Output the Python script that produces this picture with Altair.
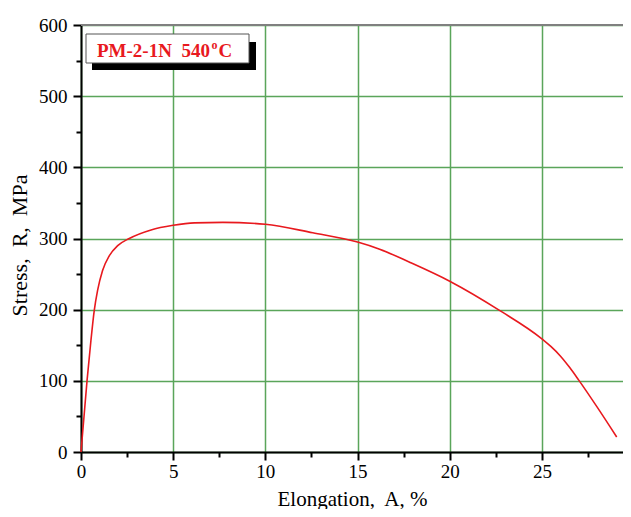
import altair as alt
import pandas as pd

# ---- data ----
elongation = [0, 0.33, 0.54, 0.72, 0.9, 1.17, 1.54, 1.99, 2.62, 3.8, 5.0, 6.15, 7.7,
              10.0, 12.57, 15.0, 16.2, 17.8, 20.0, 22.7, 25.0, 25.5, 26.0, 26.5, 27.0, 28.0, 29.06]
stress = [0, 101, 157, 199, 227, 255, 276, 290, 300, 312, 318.5, 322, 322.7,
          320, 308, 295, 285, 267, 240, 199, 159, 148, 135, 119, 101, 63, 21]

x_ticks = [0, 5, 10, 15, 20, 25, 30]
x_minor = [2.5, 7.5, 12.5, 17.5, 22.5, 27.5]
y_ticks = [0, 100, 200, 300, 400, 500, 600]
y_minor = [50, 150, 250, 350, 450, 550]

label_main = "PM-2-1N\u00a0 540"
label_sup = "o"
label_unit = "C"
x_title = "Elongation,\u00a0 A, %"
y_title = "Stress,\u00a0 R,\u00a0 MPa"

RED = "#e8191e"
GREEN = "#5aa55a"
FONT = "Liberation Serif"

df = pd.DataFrame({"x": elongation, "y": stress})

# the reference crops the plot short of 30 at the right edge
xscale = alt.Scale(domain=[0, 29.4], nice=False, zero=False)
yscale = alt.Scale(domain=[0, 600], nice=False)

x_axis = alt.Axis(values=x_ticks, format="d", orient="bottom", title=x_title,
                  labelFont=FONT, labelFontSize=19, labelColor="black", labelFlush=False,
                  labelOverlap=False, labelPadding=2,
                  tickSize=8, tickWidth=2, tickColor="black",
                  domainColor="black", domainWidth=2,
                  titleFont=FONT, titleFontSize=21, titleFontWeight="normal",
                  titleColor="black", titlePadding=7,
                  grid=True, gridColor=GREEN, gridWidth=1.5)
y_axis = alt.Axis(values=y_ticks, format="d", orient="left", title=y_title,
                  labelFont=FONT, labelFontSize=19, labelColor="black", labelFlush=False,
                  labelOverlap=False, labelPadding=6,
                  tickSize=8, tickWidth=2, tickColor="black",
                  domainColor="black", domainWidth=2,
                  titleFont=FONT, titleFontSize=22, titleFontWeight="normal",
                  titleColor="black", titlePadding=7, titleY=220,
                  grid=True, gridColor=GREEN, gridWidth=1.5)

x_minor_axis = alt.Axis(values=x_minor, orient="bottom", title=None, labels=False,
                        domain=False, grid=False, tickSize=5, tickWidth=2, tickColor="black")
y_minor_axis = alt.Axis(values=y_minor, orient="left", title=None, labels=False,
                        domain=False, grid=False, tickSize=5, tickWidth=2, tickColor="black")

curve = alt.Chart(df).mark_line(color=RED, strokeWidth=1.6, interpolate="monotone").encode(
    x=alt.X("x:Q", scale=xscale, axis=x_axis),
    y=alt.Y("y:Q", scale=yscale, axis=y_axis),
)

minor = alt.Chart(df).mark_point(opacity=0).encode(
    x=alt.X("x:Q", scale=xscale, axis=x_minor_axis),
    y=alt.Y("y:Q", scale=yscale, axis=y_minor_axis),
)

frame_df = pd.DataFrame({"k": [0]})
top_border = alt.Chart(frame_df).mark_rule(color="#808080", strokeWidth=2).encode(
    x=alt.value(0), x2=alt.value(560), y=alt.value(0))

shadow = alt.Chart(frame_df).mark_rect(color="black").encode(
    x=alt.value(11), x2=alt.value(175), y=alt.value(17), y2=alt.value(45))
box = alt.Chart(frame_df).mark_rect(fill="white", stroke="#555555", strokeWidth=1).encode(
    x=alt.value(5), x2=alt.value(168), y=alt.value(9), y2=alt.value(38))

txt_df = pd.DataFrame({"main": [label_main], "sup": [label_sup], "unit": [label_unit]})
t_main = alt.Chart(txt_df).mark_text(font=FONT, fontSize=19, fontWeight="bold", color=RED,
                                     align="left", baseline="alphabetic").encode(
    text="main:N", x=alt.value(16), y=alt.value(31.5))
t_sup = alt.Chart(txt_df).mark_text(font=FONT, fontSize=12, fontWeight="bold", color=RED,
                                    align="left", baseline="alphabetic").encode(
    text="sup:N", x=alt.value(130.5), y=alt.value(24))
t_unit = alt.Chart(txt_df).mark_text(font=FONT, fontSize=19, fontWeight="bold", color=RED,
                                     align="left", baseline="alphabetic").encode(
    text="unit:N", x=alt.value(137.5), y=alt.value(31.5))

chart = alt.layer(curve, minor, top_border, shadow, box, t_main, t_sup, t_unit).resolve_axis(
    x="independent", y="independent"
).properties(
    width=542, height=427,
    autosize=alt.AutoSizeParams(type="none"),
    padding={"left": 73, "top": 17, "right": 0, "bottom": 57},
    background="white",
).configure_view(stroke=None)

chart.save("out.html", embed_options={"renderer": "svg", "actions": False})
